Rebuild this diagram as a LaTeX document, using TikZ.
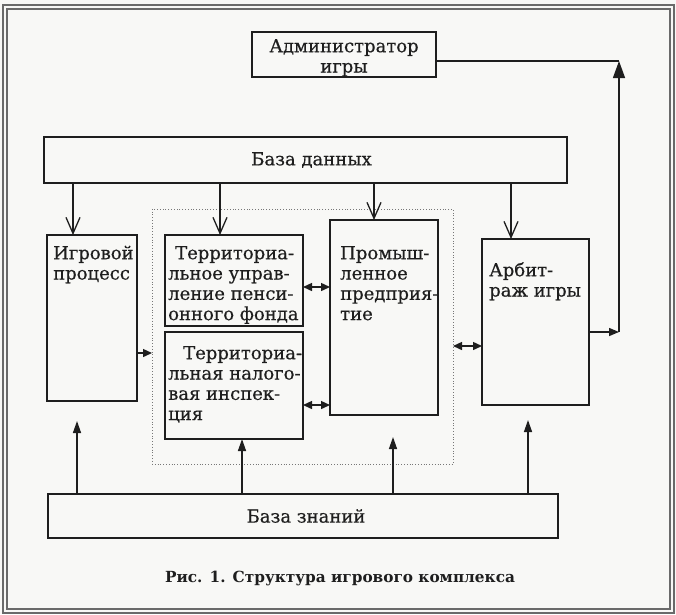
\documentclass[tikz,border=0pt]{standalone}
\usepackage{fontspec}
\setmainfont{DejaVu Serif}
\newfontfamily\boxfont{DejaVu Serif}[FakeBold=0.5]
\usetikzlibrary{arrows.meta}
\definecolor{ink}{HTML}{1E1E1E}
\definecolor{framec}{HTML}{6A6A6A}
\definecolor{paper}{HTML}{F8F8F6}
\definecolor{dotc}{HTML}{777777}
\begin{document}
\begin{tikzpicture}[x=1pt,y=-1pt,
  box/.style={draw=ink, line width=2pt, inner sep=0pt, outer sep=0pt, anchor=north west},
  dotbox/.style={draw=dotc, line width=0.8pt, dotted, inner sep=0pt, outer sep=0pt, anchor=north west},
  txt/.style={inner sep=0pt, anchor=north west, align=left, text=ink, font=\boxfont\fontsize{18}{20.3}\selectfont},
  ctxt/.style={inner sep=0pt, align=center, text=ink, font=\boxfont\fontsize{18}{20.3}\selectfont},
  conn/.style={draw=ink, line width=1.4pt},
  varrow/.style={conn, -{Straight Barb[length=16pt,width=14pt,line width=1.3pt]}},
  farrow/.style={conn, -{Triangle[length=12pt,width=8pt]}},
  darrow/.style={conn, {Triangle[length=9pt,width=8pt]}-{Triangle[length=9pt,width=8pt]}},
  bigarrow/.style={conn, -{Triangle[length=17pt,width=12pt]}}
]
\useasboundingbox (0,0) rectangle (676,614);
\fill[paper] (0,0) rectangle (676,614);
% outer double frame
\draw[framec, line width=1.2pt] (3,5) rectangle (674,613);
\draw[framec, line width=1.2pt] (7,9) rectangle (670,609);

% boxes
\node[box, line width=1.7pt, minimum width=184pt, minimum height=45pt] (admin) at (252,32) {};
\node[box, line width=1.7pt, minimum width=523pt, minimum height=46pt] (db) at (44,137) {};
\node[dotbox, minimum width=301pt, minimum height=255pt] (grp) at (152,209) {};
\node[box, minimum width=90pt, minimum height=166pt] (igr) at (47,235) {};
\node[box, minimum width=138pt, minimum height=91pt] (tu) at (165,235) {};
\node[box, minimum width=138pt, minimum height=107pt] (tn) at (165,332) {};
\node[box, line width=1.4pt, minimum width=108pt, minimum height=195pt] (prom) at (330,220) {};
\node[box, minimum width=107pt, minimum height=166pt] (arb) at (482,239) {};
\node[box, line width=1.8pt, minimum width=510pt, minimum height=44pt] (kb) at (48,494) {};

% texts
\node[ctxt, anchor=north] (adminT) at (344,37.8) {\strut Администратор\\игры};
\node[ctxt] (dbT) at ([xshift=6pt]db.center) {База данных};
\node[ctxt] (kbT) at ([xshift=3pt]kb.center) {База знаний};
\node[txt] (igrT) at (53,244.8) {\strut Игровой\\процесс};
\node[txt] (tuT) at (168,244.8) {\strut\hspace*{7pt}Территориа-\\льное управ-\\ление пенси-\\онного фонда};
\node[txt] (tnT) at (168,344.8) {\strut\hspace*{15pt}Территориа-\\льная налого-\\вая инспек-\\ция};
\node[txt] (promT) at (340,244.8) {\strut Промыш-\\ленное\\предприя-\\тие};
\node[txt] (arbT) at (489,261.8) {\strut Арбит-\\раж игры};
\node[inner sep=0pt, text=ink, font=\bfseries\fontsize{15.3}{18}\selectfont] (cap) at (340,579) {Рис. 1. Структура игрового комплекса};

% column coordinates
\coordinate (c1) at (73,0);
\coordinate (c2) at (220,0);
\coordinate (c3) at (374,0);
\coordinate (c4) at (511,0);
\coordinate (u1) at (77,0);
\coordinate (u2) at (242,0);
\coordinate (u3) at (393,0);
\coordinate (u4) at (528,0);
\coordinate (r1) at (0,287);
\coordinate (r2) at (0,405);
\coordinate (r3) at (0,346);
\coordinate (r4) at (0,353);
\coordinate (lb) at (619,332);
\coordinate (lt) at (619,61);

% database down arrows
\draw[varrow] (db.south -| c1) -- (igr.north -| c1);
\draw[varrow] (db.south -| c2) -- (tu.north -| c2);
\draw[varrow] (db.south -| c3) -- (prom.north -| c3);
\draw[varrow] (db.south -| c4) -- (arb.north -| c4);

% knowledge base up arrows
\draw[farrow, shorten >=20pt] (kb.north -| u1) -- (igr.south -| u1);
\draw[farrow] (kb.north -| u2) -- (tn.south -| u2);
\draw[farrow, shorten >=22pt] (kb.north -| u3) -- (prom.south -| u3);
\draw[farrow, shorten >=15pt] (kb.north -| u4) -- (arb.south -| u4);

% double arrows
\draw[darrow] (tu.east |- r1) -- (prom.west |- r1);
\draw[darrow] (tn.east |- r2) -- (prom.west |- r2);
\draw[darrow] (grp.east |- r3) -- (arb.west |- r3);
\draw[farrow, -{Triangle[length=9pt,width=8pt]}] (igr.east |- r4) -- (grp.west |- r4);

% feedback loop to administrator
\draw[farrow, -{Triangle[length=10pt,width=8pt]}] (arb.east |- lb) -- (lb);
\draw[bigarrow] (lb) -- (lt);
\draw[conn] (admin.east |- lt) -- (lt);
\end{tikzpicture}
\end{document}
